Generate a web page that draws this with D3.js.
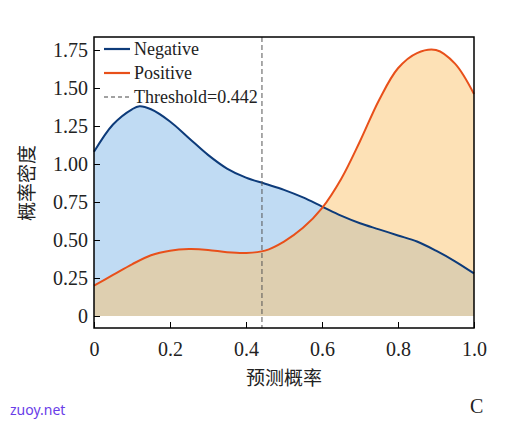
<!DOCTYPE html><html><head><meta charset="utf-8"><script src="https://cdn.jsdelivr.net/npm/d3@7"></script>
<style>body{margin:0;background:#fff}</style></head><body><svg id="c" width="506" height="426"></svg>
<script>
const xTicks=[0,0.2,0.4,0.6,0.8,1.0];
const yTicks=[0,0.25,0.5,0.75,1.0,1.25,1.5,1.75];
const negX=[0,0.05,0.1,0.12,0.15,0.2,0.25,0.3,0.35,0.4,0.45,0.5,0.55,0.6,0.65,0.7,0.75,0.8,0.85,0.9,0.95,1.0];
const negY=[1.08,1.26,1.36,1.38,1.36,1.28,1.17,1.06,0.97,0.91,0.87,0.83,0.78,0.72,0.66,0.61,0.57,0.53,0.49,0.43,0.36,0.28];
const posX=[0,0.05,0.1,0.15,0.2,0.25,0.3,0.35,0.4,0.45,0.5,0.55,0.6,0.65,0.7,0.75,0.8,0.85,0.9,0.95,1.0];
const posY=[0.2,0.27,0.34,0.4,0.43,0.44,0.435,0.42,0.415,0.43,0.49,0.58,0.71,0.9,1.15,1.42,1.63,1.73,1.75,1.66,1.46];
const threshold=0.442;
const SERIF='"Liberation Serif","DejaVu Serif",serif';
const svg=d3.select("#c");
const L=94,R=474,T=37,B=328;
const x=d3.scaleLinear().domain([0,1]).range([L,R]);
const y=d3.scaleLinear().domain([0,1.75]).range([316,50]);
const neg=negX.map((v,i)=>[v,negY[i]]),pos=posX.map((v,i)=>[v,posY[i]]);
const cv=d3.curveCatmullRom.alpha(0.5);
const area=d3.area().x(d=>x(d[0])).y0(y(0)).y1(d=>y(d[1])).curve(cv);
const line=d3.line().x(d=>x(d[0])).y(d=>y(d[1])).curve(cv);
svg.append("path").attr("d",area(neg)).attr("fill","rgb(150,195,235)").attr("fill-opacity",0.6);
svg.append("path").attr("d",area(pos)).attr("fill","rgb(252,195,110)").attr("fill-opacity",0.5);
svg.append("path").attr("d",line(neg)).attr("fill","none").attr("stroke","#0d3b7a").attr("stroke-width",2);
svg.append("path").attr("d",line(pos)).attr("fill","none").attr("stroke","#e8501a").attr("stroke-width",2);
svg.append("line").attr("x1",x(threshold)).attr("x2",x(threshold)).attr("y1",T).attr("y2",B).attr("stroke","#555").attr("stroke-dasharray","5,3").attr("stroke-width",1);
svg.append("rect").attr("x",L).attr("y",T).attr("width",R-L).attr("height",B-T).attr("fill","none").attr("stroke","#000").attr("stroke-width",1.5);
const ya=svg.append("g").attr("transform",`translate(${L},0)`).call(d3.axisRight(y).tickValues(yTicks).tickSize(6).tickFormat(d=>d===0?"0":d3.format(".2f")(d)));
ya.select(".domain").remove();
ya.selectAll("text").attr("x",-6).attr("text-anchor","end").attr("font-family",SERIF).attr("font-size",20).attr("fill","#222");
const xa=svg.append("g").attr("transform",`translate(0,${B})`).call(d3.axisTop(x).tickValues(xTicks).tickSize(6).tickFormat(d=>d===0?"0":d3.format(".1f")(d)));
xa.select(".domain").remove();
xa.selectAll("text").attr("y",28).attr("font-family",SERIF).attr("font-size",20).attr("fill","#222");
const lg=[["Negative","#0d3b7a",null],["Positive","#e8501a",null],["Threshold=0.442","#444","4,3"]];
lg.forEach((d,i)=>{const yy=49+i*24;
svg.append("line").attr("x1",104).attr("x2",130).attr("y1",yy).attr("y2",yy).attr("stroke",d[1]).attr("stroke-width",d[2]?1.2:2.2).attr("stroke-dasharray",d[2]);
svg.append("text").attr("x",134).attr("y",yy+6).text(d[0]).attr("font-family",SERIF).attr("font-size",18).attr("fill","#222");});
svg.append("text").attr("x",284).attr("y",385).attr("text-anchor","middle").text("预测概率").attr("font-family","Noto Sans CJK SC").attr("font-size",19).attr("fill","#222");
svg.append("text").attr("transform","translate(34,183) rotate(-90)").attr("text-anchor","middle").text("概率密度").attr("font-family","Noto Sans CJK SC").attr("font-size",19).attr("fill","#222");
svg.append("text").attr("x",10).attr("y",415).text("zuoy.net").attr("font-family","Noto Sans").attr("font-size",14).attr("fill","#6a3de8");
svg.append("text").attr("x",470).attr("y",413).text("C").attr("font-family",SERIF).attr("font-size",20).attr("fill","#222");
</script></body></html>
